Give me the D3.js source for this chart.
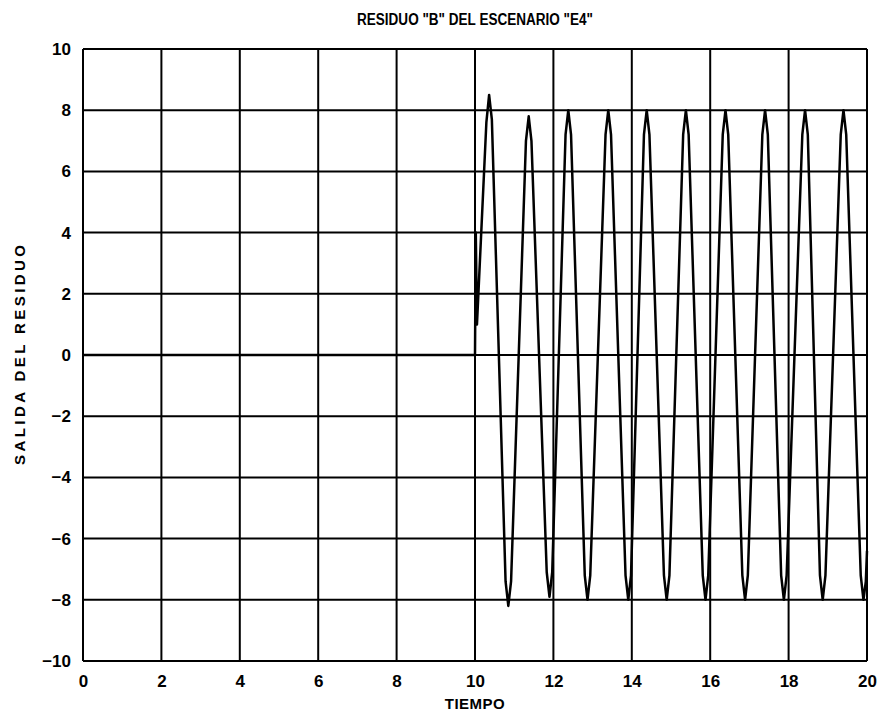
<!DOCTYPE html>
<html>
<head>
<meta charset="utf-8">
<script src="https://cdn.jsdelivr.net/npm/d3@7"></script>
<style>
  body { margin: 0; background: #fff; }
  text { font-family: "Liberation Sans", Arial, sans-serif; fill: #000; }
</style>
</head>
<body>
<div id="chart"></div>
<script>
// residue values (time, output)
const tiempo = [0, 10.0, 10.02, 10.05, 10.29, 10.36, 10.43, 10.78, 10.85, 10.92,
  11.30, 11.37, 11.44, 11.83, 11.90, 11.97, 12.31, 12.38, 12.45, 12.80, 12.87, 12.94,
  13.33, 13.40, 13.47, 13.84, 13.91, 13.98, 14.31, 14.38, 14.45, 14.82, 14.89, 14.96,
  15.31, 15.38, 15.45, 15.81, 15.88, 15.95, 16.32, 16.39, 16.46, 16.82, 16.89, 16.96,
  17.33, 17.40, 17.47, 17.81, 17.88, 17.95, 18.35, 18.42, 18.49, 18.80, 18.87, 18.94,
  19.33, 19.40, 19.47, 19.84, 19.91, 19.97, 20.0];
const salida = [0, 0, 4.0, 1.0, 7.6, 8.5, 7.7, -7.4, -8.2, -7.4,
  7.0, 7.8, 7.0, -7.1, -7.9, -7.1, 7.2, 8.0, 7.2, -7.2, -8.0, -7.2,
  7.2, 8.0, 7.2, -7.2, -8.0, -7.2, 7.2, 8.0, 7.2, -7.2, -8.0, -7.2,
  7.2, 8.0, 7.2, -7.2, -8.0, -7.2, 7.2, 8.0, 7.2, -7.2, -8.0, -7.2,
  7.2, 8.0, 7.2, -7.2, -8.0, -7.2, 7.2, 8.0, 7.2, -7.2, -8.0, -7.2,
  7.2, 8.0, 7.2, -7.2, -8.0, -7.4, -6.4];
const xTicks = [0, 2, 4, 6, 8, 10, 12, 14, 16, 18, 20];
const yTicks = [-10, -8, -6, -4, -2, 0, 2, 4, 6, 8, 10];

const W = 883, H = 723;
const margin = {top: 49, right: 16, bottom: 62, left: 83};

const svg = d3.select("#chart").append("svg")
    .attr("width", W)
    .attr("height", H);

const x = d3.scaleLinear().domain([0, 20]).range([margin.left, W - margin.right]);
const y = d3.scaleLinear().domain([-10, 10]).range([H - margin.bottom, margin.top]);

// grid
svg.append("g").selectAll("line").data(xTicks).join("line")
    .attr("x1", d => x(d)).attr("x2", d => x(d))
    .attr("y1", y(10)).attr("y2", y(-10))
    .attr("stroke", "#000").attr("stroke-width", 2);
svg.append("g").selectAll("line").data(yTicks).join("line")
    .attr("x1", x(0)).attr("x2", x(20))
    .attr("y1", d => y(d)).attr("y2", d => y(d))
    .attr("stroke", "#000").attr("stroke-width", 2);

// tick labels via d3 axes, tick lines hidden
const xAxis = svg.append("g")
    .attr("transform", `translate(0,${y(-10)})`)
    .call(d3.axisBottom(x).tickValues(xTicks).tickSize(0).tickPadding(14).tickFormat(d3.format("d")));
const yAxis = svg.append("g")
    .attr("transform", `translate(${x(0)},0)`)
    .call(d3.axisLeft(y).tickValues(yTicks).tickSize(0).tickPadding(12).tickFormat(d3.format("d")));
[xAxis, yAxis].forEach(a => {
    a.select(".domain").remove();
    a.selectAll("text")
        .style("font-family", '"Liberation Sans", Arial, sans-serif')
        .style("font-size", "17px")
        .style("font-weight", "bold");
});

// signal
const pts = tiempo.map((t, i) => [t, salida[i]]);
svg.append("path")
    .datum(pts)
    .attr("fill", "none")
    .attr("stroke", "#000")
    .attr("stroke-width", 2.5)
    .attr("stroke-linejoin", "round")
    .attr("d", d3.line().x(d => x(d[0])).y(d => y(d[1])));

// titles
svg.append("text")
    .attr("x", x(10)).attr("y", 25)
    .attr("text-anchor", "middle")
    .attr("textLength", 236)
    .attr("lengthAdjust", "spacingAndGlyphs")
    .style("font-size", "16px")
    .style("font-weight", "bold")
    .text('RESIDUO "B" DEL ESCENARIO "E4"');

svg.append("text")
    .attr("x", x(10)).attr("y", 709)
    .attr("text-anchor", "middle")
    .style("font-size", "15px")
    .style("font-weight", "bold")
    .style("letter-spacing", "0.5px")
    .text("TIEMPO");

svg.append("text")
    .attr("transform", `translate(25,${y(0)}) rotate(-90)`)
    .attr("text-anchor", "middle")
    .attr("textLength", 220)
    .attr("lengthAdjust", "spacing")
    .style("font-size", "15px")
    .style("font-weight", "bold")
    .text("SALIDA DEL RESIDUO");
</script>
</body>
</html>
